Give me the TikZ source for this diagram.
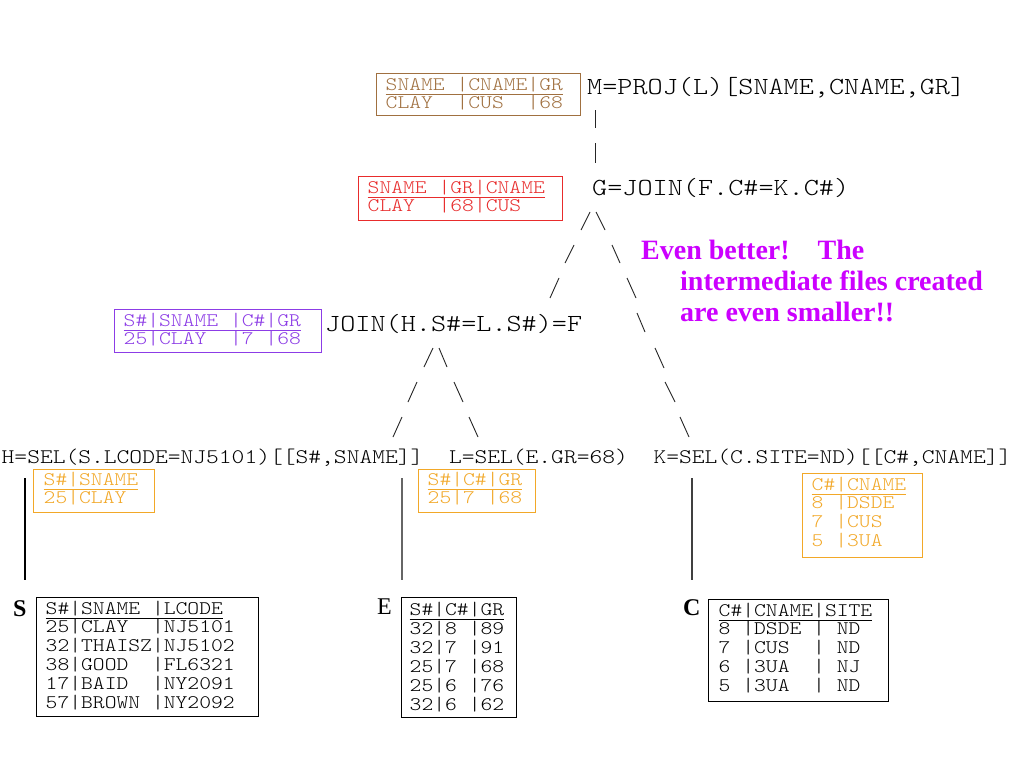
\documentclass[tikz,border=0pt]{standalone}
\usepackage{fontspec}
\newfontfamily\monofam{lmmonolt10-regular.otf}[FakeStretch=1.172, WordSpace={1,0,0}]
\newfontfamily\seriffam{Liberation Serif}
\newcommand\fTab{\monofam\fontsize{19.2}{18.9}\selectfont}
\newcommand\fUp{\monofam\fontsize{24.57}{30}\selectfont}
\newcommand\fLow{\monofam\fontsize{20.77}{25}\selectfont}
\newcommand\fNote{\seriffam\bfseries\fontsize{28}{31}\selectfont}
\newcommand\fLab{\seriffam\fontsize{24}{30}\selectfont}
\definecolor{cbrown}{RGB}{160,112,64}
\definecolor{cred}{RGB}{232,44,44}
\definecolor{cpurple}{RGB}{140,60,230}
\definecolor{corange}{RGB}{242,168,40}
\definecolor{cnote}{RGB}{204,0,255}
\tikzset{
  tab/.style={font=\fTab, inner sep=0pt, anchor=base west},
  up/.style={font=\fUp, inner sep=0pt, anchor=base west},
  low/.style={font=\fLow, inner sep=0pt, anchor=base west},
  note/.style={font=\fNote, text=cnote, inner sep=0pt, anchor=base west},
  lab/.style={font=\fLab, inner sep=0pt, anchor=base west},
  tbox/.style={draw, line width=1.3pt, inner sep=0pt, anchor=north west},
  uline/.style={line width=1pt},
  tree/.style={draw=black!85, line width=0.9pt},
  vline/.style={line width=1.1pt}
}
\begin{document}
\begin{tikzpicture}[x=1pt,y=-1pt]
\fill[white] (0,0) rectangle (1024,768);
\useasboundingbox (0,0) rectangle (1024,768);

% ---------- upper labels ----------
\node[up] (mlab) at (587,94.4) {M=PROJ(L)[SNAME,CNAME,GR]};
\node[up] (glab) at (592,195.4) {G=JOIN(F.C\#=K.C\#)};
\node[up] (flab) at (325,331.4) {JOIN(H.S\#=L.S\#)=F};

% ---------- lower labels ----------
\node[low] (hlab) at (1.5,463.3) {H=SEL(S.LCODE=NJ5101)[[S\#,SNAME]]};
\node[low] (llab) at (448.8,463.3) {L=SEL(E.GR=68)};
\node[low] (klab) at (653.3,463.3) {K=SEL(C.SITE=ND)[[C\#,CNAME]]};

% ---------- brown result box ----------
\node[tbox, draw=cbrown, minimum width=204pt, minimum height=42pt] (mbox) at (376,73) {};
\foreach \r [count=\i from 0] in {{SNAME~|CNAME|GR},{CLAY~~|CUS~~|68}}
  \node[tab, text=cbrown] (m\i) at (385.5,90+\i*18.9) {\r};
\draw[uline, cbrown] (m0.base west) ++(0,4) -- ++(177.3,0);

% ---------- red result box ----------
\node[tbox, draw=cred, minimum width=204pt, minimum height=44pt] (gbox) at (358,176) {};
\foreach \r [count=\i from 0] in {{SNAME~|GR|CNAME},{CLAY~~|68|CUS}}
  \node[tab, text=cred] (g\i) at (367.5,193+\i*18.9) {\r};
\draw[uline, cred] (g0.base west) ++(0,4) -- ++(177.3,0);

% ---------- purple result box ----------
\node[tbox, draw=cpurple, minimum width=207pt, minimum height=43pt] (fbox) at (114,309) {};
\foreach \r [count=\i from 0] in {{S\#|SNAME~|C\#|GR},{25|CLAY~~|7~|68}}
  \node[tab, text=cpurple] (f\i) at (123.5,326+\i*18.9) {\r};
\draw[uline, cpurple] (f0.base west) ++(0,4) -- ++(177.3,0);

% ---------- orange H box ----------
\node[tbox, draw=corange, minimum width=121pt, minimum height=43pt] (hbox) at (33,469) {};
\foreach \r [count=\i from 0] in {{S\#|SNAME},{25|CLAY}}
  \node[tab, text=corange] (h\i) at (43.5,485+\i*18.9) {\r};
\draw[uline, corange] (h0.base west) ++(0,4) -- ++(94.6,0);

% ---------- orange L box ----------
\node[tbox, draw=corange, minimum width=117pt, minimum height=43pt] (lbox) at (418,469) {};
\foreach \r [count=\i from 0] in {{S\#|C\#|GR},{25|7~|68}}
  \node[tab, text=corange] (l\i) at (427.5,485+\i*18.9) {\r};
\draw[uline, corange] (l0.base west) ++(0,4) -- ++(94.6,0);

% ---------- orange K box ----------
\node[tbox, draw=corange, minimum width=120pt, minimum height=84pt] (kbox) at (802,473) {};
\foreach \r [count=\i from 0] in {{C\#|CNAME},{8~|DSDE},{7~|CUS},{5~|3UA}}
  \node[tab, text=corange] (k\i) at (811.5,490+\i*18.9) {\r};
\draw[uline, corange] (k0.base west) ++(0,4) -- ++(94.6,0);

% ---------- base tables ----------
\node[lab, font=\fLab\bfseries] (slab) at (13,616.5) {S};
\node[tbox, minimum width=222pt, minimum height=119pt] (sbox) at (36,597) {};
\foreach \r [count=\i from 0] in {{S\#|SNAME~|LCODE},{25|CLAY~~|NJ5101},{32|THAISZ|NJ5102},{38|GOOD~~|FL6321},{17|BAID~~|NY2091},{57|BROWN~|NY2092}}
  \node[tab] (s\i) at (45.5,614+\i*18.9) {\r};
\draw[uline] (s0.base west) ++(0,4) -- ++(177.3,0);

\node[lab] (elab) at (377,614.5) {E};
\node[tbox, minimum width=115pt, minimum height=120pt] (ebox) at (401,597) {};
\foreach \r [count=\i from 0] in {{S\#|C\#|GR},{32|8~|89},{32|7~|91},{25|7~|68},{25|6~|76},{32|6~|62}}
  \node[tab] (e\i) at (409.5,615.5+\i*18.9) {\r};
\draw[uline] (e0.base west) ++(0,4) -- ++(94.6,0);

\node[lab, font=\fLab\bfseries] (clab) at (683,615.5) {C};
\node[tbox, minimum width=180pt, minimum height=102pt] (cbox) at (708,599) {};
\foreach \r [count=\i from 0] in {{C\#|CNAME|SITE},{8~|DSDE~|~ND},{7~|CUS~~|~ND},{6~|3UA~~|~NJ},{5~|3UA~~|~ND}}
  \node[tab] (c\i) at (718.5,616+\i*18.9) {\r};
\draw[uline] (c0.base west) ++(0,4) -- ++(153.7,0);

% ---------- vertical links to base tables ----------
\coordinate (sv1) at (25,478);  \coordinate (sv2) at (25,580);
\coordinate (ev1) at (402,478); \coordinate (ev2) at (402,580);
\coordinate (cv1) at (692,478); \coordinate (cv2) at (692,580);
\draw[vline, black] (sv1) -- (sv2);
\draw[vline, black!60] (ev1) -- (ev2);
\draw[vline, black!75] (cv1) -- (cv2);

% ---------- tree strokes ----------
\foreach \ax/\ay/\bx/\by [count=\k] in {
  595/110/595/128, 595/143/595/163,
  590/212/581/230, 596/212/605/230,
  574/245/565/263, 612/245/620/263,
  559/278/550/298, 627/278/636/298,
  637/313/645/332, 655/348/664/368,
  665/382/675/402, 680/417/689/437,
  433/348/424/367, 439/348/447/367,
  417/382/408/402, 454/382/463/402,
  402/417/393/437, 469/417/478/437}
{
  \coordinate (t\k a) at (\ax,\ay);
  \coordinate (t\k b) at (\bx,\by);
  \draw[tree] (t\k a) -- (t\k b);
}

% ---------- note ----------
\node[note] (n1) at (641,259) {Even better!\hspace*{28pt}The};
\node[note] (n2) at (680,290) {intermediate files created};
\node[note] (n3) at (680,321) {are even smaller!!};
\end{tikzpicture}
\end{document}
